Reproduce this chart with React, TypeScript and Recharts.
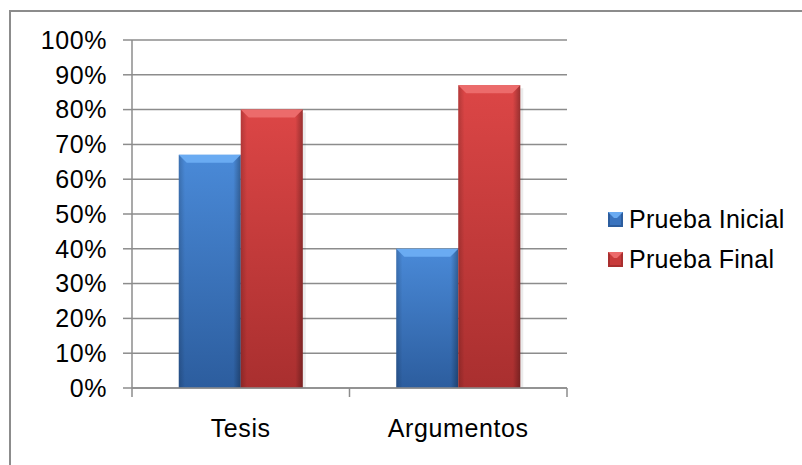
import React from 'react'
import { BarChart, Bar, XAxis, YAxis, CartesianGrid } from 'recharts'

const categories = ['Tesis', 'Argumentos']
const pruebaInicial = [67, 40]
const pruebaFinal = [80, 87]
const yTicks = [0, 10, 20, 30, 40, 50, 60, 70, 80, 90, 100]

const FONT = '"Liberation Sans", Arial, sans-serif'
const GRID = '#8c8c8c'
const FS = 25
const LS = 0.6

const data = categories.map((name, i) => ({
  name,
  inicial: pruebaInicial[i],
  final: pruebaFinal[i],
}))

const PALETTE: Record<string, { light: string; mid: string; dark: string; bevel: string }> = {
  blue: { light: '#4a8ad8', mid: '#3a74bf', dark: '#2c5d9e', bevel: '#6aabf2' },
  red: { light: '#dc4646', mid: '#c83b3b', dark: '#a92f2f', bevel: '#ec6b6b' },
}

function Gradients() {
  return (
    <defs>
      {Object.entries(PALETTE).map(([key, c]) => (
        <React.Fragment key={key}>
          <linearGradient id={`body-${key}`} x1="0" y1="0" x2="0" y2="1">
            <stop offset="0%" stopColor={c.light} />
            <stop offset="100%" stopColor={c.dark} />
          </linearGradient>
          <linearGradient id={`edge-${key}`} x1="0" y1="0" x2="1" y2="0">
            <stop offset="0%" stopColor="#000" stopOpacity={0.18} />
            <stop offset="10%" stopColor="#000" stopOpacity={0} />
            <stop offset="88%" stopColor="#000" stopOpacity={0} />
            <stop offset="100%" stopColor="#000" stopOpacity={0.3} />
          </linearGradient>
        </React.Fragment>
      ))}
    </defs>
  )
}

// bevelled bar like the old Office 2007 charts
function makeShape(key: string) {
  return (props: any) => {
    const { x, y, width, height } = props
    if (!height || height <= 0) return null
    const c = PALETTE[key]
    const b = Math.min(8, width / 4)
    return (
      <g>
        <rect x={x + 3} y={y + 3} width={width} height={height - 3} fill="#000" opacity={0.08} />
        <rect x={x} y={y} width={width} height={height} fill={`url(#body-${key})`} />
        <rect x={x} y={y} width={width} height={height} fill={`url(#edge-${key})`} />
        <polygon
          points={`${x},${y} ${x + width},${y} ${x + width - b},${y + b} ${x + b},${y + b}`}
          fill={c.bevel}
        />
      </g>
    )
  }
}

function XTick(props: any) {
  const { x, y, payload, index } = props
  const half = (props.width ?? 436) / categories.length / 2
  return (
    <g>
      <line x1={x - half} y1={y - 8} x2={x - half} y2={y + 1} stroke={GRID} strokeWidth={1.5} />
      {index === categories.length - 1 && (
        <line x1={x + half} y1={y - 8} x2={x + half} y2={y + 1} stroke={GRID} strokeWidth={1.5} />
      )}
      <text
        x={x}
        y={y + 41}
        textAnchor="middle"
        fill="#000"
        fontSize={FS}
        fontFamily={FONT}
        letterSpacing={LS}
      >
        {payload.value}
      </text>
    </g>
  )
}

function LegendMarker({ k }: { k: string }) {
  const c = PALETTE[k]
  return (
    <svg width={15} height={15} style={{ display: 'block' }}>
      <rect x={0} y={0} width={15} height={15} fill={c.dark} />
      <rect x={2} y={2} width={11} height={11} fill={c.mid} />
      <polygon points="0,0 15,0 9,6 6,6" fill={c.bevel} />
    </svg>
  )
}

const legendItems = [
  { key: 'blue', label: 'Prueba Inicial' },
  { key: 'red', label: 'Prueba Final' },
]

function ChartLegend() {
  return (
    <div
      style={{
        position: 'absolute',
        left: 608,
        top: 199,
        fontFamily: FONT,
        fontSize: FS,
        letterSpacing: 0.3,
        color: '#000',
      }}
    >
      {legendItems.map((it) => (
        <div key={it.key} style={{ display: 'flex', alignItems: 'center', height: 40 }}>
          <LegendMarker k={it.key} />
          <span style={{ marginLeft: 6, whiteSpace: 'nowrap' }}>{it.label}</span>
        </div>
      ))}
    </div>
  )
}

export default function App() {
  return (
    <div style={{ position: 'absolute', left: 0, top: 0, width: 802, height: 465, background: '#fff' }}>
      <div
        style={{
          position: 'absolute',
          left: 9,
          top: 10,
          width: 800,
          height: 460,
          borderLeft: '2px solid #8c8c8c',
          borderTop: '2px solid #8c8c8c',
        }}
      />
      <div style={{ position: 'absolute', left: 0, top: 0 }}>
        <BarChart
          width={802}
          height={465}
          data={data}
          margin={{ top: 40, right: 235, left: 10, bottom: 17 }}
          barCategoryGap="21.5%"
          barGap={0}
        >
          <Gradients />
          <CartesianGrid vertical={false} stroke={GRID} strokeWidth={1.5} />
          <YAxis
            width={122}
            domain={[0, 100]}
            ticks={yTicks}
            interval={0}
            tickFormatter={(v: number) => `${v}%`}
            axisLine={{ stroke: GRID, strokeWidth: 1.5 }}
            tickLine={{ stroke: GRID, strokeWidth: 1.5 }}
            tickSize={9}
            tickMargin={16}
            tick={{ fontSize: FS, fill: '#000', fontFamily: FONT, letterSpacing: LS }}
          />
          <XAxis
            dataKey="name"
            height={60}
            axisLine={{ stroke: GRID, strokeWidth: 1.5 }}
            tickLine={false}
            interval={0}
            tick={<XTick width={435} />}
          />
          <Bar dataKey="inicial" name="Prueba Inicial" shape={makeShape('blue')} isAnimationActive={false} />
          <Bar dataKey="final" name="Prueba Final" shape={makeShape('red')} isAnimationActive={false} />
        </BarChart>
      </div>
      <ChartLegend />
    </div>
  )
}
